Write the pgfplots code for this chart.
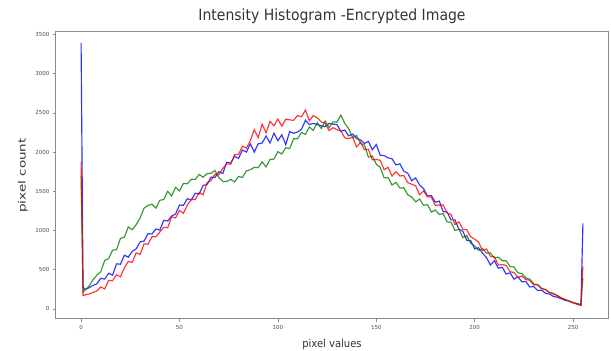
\documentclass[border=0pt]{standalone}
\usepackage{pgfplots}
\pgfplotsset{compat=1.18}
\usepackage{pgfplotstable}
\usepackage{fontspec}
\setmainfont{DejaVu Sans}
\definecolor{mplblue}{rgb}{0,0,1}
\definecolor{mplgreen}{rgb}{0,0.5,0}
\definecolor{mplred}{rgb}{1,0,0}

\pgfplotstableread{
x y
0 3390
1 280
2 250
4 270
6 300
8 320
10 390
12 380
14 455
16 430
18 575
20 570
22 685
24 660
26 735
28 765
30 855
32 865
34 960
36 955
38 1020
40 1005
42 1130
44 1120
46 1185
48 1210
50 1325
52 1320
54 1405
56 1390
58 1475
60 1465
62 1575
64 1585
66 1680
68 1675
70 1750
72 1725
74 1870
76 1860
78 1945
80 1920
82 2025
84 2000
86 2105
88 2000
90 2105
92 2115
94 2205
96 2115
98 2240
100 2145
102 2220
104 2095
106 2260
108 2240
110 2255
112 2290
114 2405
116 2350
118 2365
120 2350
122 2335
124 2325
126 2365
128 2355
130 2350
132 2265
134 2280
136 2205
138 2230
140 2170
142 2155
144 2110
146 2135
148 2030
150 2095
152 1960
154 1955
156 1925
158 1915
160 1835
162 1850
164 1755
166 1730
168 1635
170 1670
172 1580
174 1535
176 1440
178 1445
180 1360
182 1375
184 1240
186 1235
188 1135
190 1135
192 1015
194 990
196 875
198 870
200 765
202 780
204 710
206 655
208 560
210 615
212 520
214 530
216 445
218 460
220 380
222 410
224 345
226 350
228 280
230 285
232 235
234 240
236 200
238 190
240 160
242 150
244 130
246 110
248 100
250 80
252 70
254 50
255 1090
}\blue

\pgfplotstableread{
x y
0 1700
1 215
2 240
4 290
6 370
8 430
10 475
12 620
14 640
16 750
18 755
20 900
22 915
24 1045
26 1010
28 1075
30 1160
32 1285
34 1320
36 1335
38 1285
40 1385
42 1395
44 1500
46 1440
48 1550
50 1505
52 1600
54 1595
56 1655
58 1650
60 1715
62 1680
64 1725
66 1730
68 1765
70 1675
72 1625
74 1625
76 1650
78 1620
80 1690
82 1675
84 1760
86 1775
88 1805
90 1800
92 1875
94 1810
96 1905
98 1910
100 2005
102 1975
104 2055
106 2045
108 2170
110 2170
112 2250
114 2225
116 2320
118 2275
120 2375
122 2300
124 2395
126 2310
128 2385
130 2380
132 2470
134 2365
136 2295
138 2185
140 2210
142 2110
144 2090
146 1935
148 1950
150 1845
152 1805
154 1670
156 1675
158 1580
160 1615
162 1540
164 1545
166 1455
168 1425
170 1365
172 1400
174 1320
176 1330
178 1235
180 1260
182 1205
184 1215
186 1110
188 1105
190 1000
192 1015
194 910
196 935
198 835
200 805
202 745
204 770
206 710
208 715
210 650
212 660
214 615
216 615
218 540
220 535
222 460
224 450
226 395
228 380
230 320
232 310
234 260
236 245
238 210
240 200
242 170
244 140
246 120
248 100
250 80
252 65
254 55
255 400
}\green

\pgfplotstableread{
x y
0 1870
1 170
2 180
4 190
6 210
8 230
10 280
12 255
14 365
16 360
18 435
20 410
22 525
24 605
26 595
28 715
30 695
32 830
34 825
36 920
38 920
40 980
42 1040
44 1035
46 1175
48 1160
50 1255
52 1220
54 1325
56 1395
58 1395
60 1485
62 1455
64 1610
66 1635
68 1720
70 1710
72 1790
74 1850
76 1845
78 1965
80 1970
82 2075
84 2050
86 2145
88 2285
90 2185
92 2355
94 2245
96 2390
98 2335
100 2420
102 2330
104 2420
106 2410
108 2405
110 2465
112 2450
114 2535
116 2400
118 2465
120 2435
122 2385
124 2365
126 2275
128 2310
130 2285
132 2270
134 2180
136 2170
138 2190
140 2065
142 2125
144 2030
146 2035
148 1900
150 1905
152 1895
154 1775
156 1805
158 1695
160 1750
162 1695
164 1700
166 1610
168 1590
170 1570
172 1455
174 1505
176 1430
178 1425
180 1320
182 1325
184 1325
186 1225
188 1205
190 1075
192 1110
194 1015
196 1010
198 920
200 890
202 850
204 745
206 765
208 670
210 665
212 560
214 565
216 555
218 475
220 465
222 400
224 420
226 375
228 365
230 305
232 310
234 260
236 250
238 210
240 190
242 170
244 140
246 120
248 100
250 80
252 60
254 45
255 550
}\red

\begin{document}
\begin{tikzpicture}
\path[use as bounding box] (0,0) rectangle (611pt,351pt);
\begin{axis}[
  at={(56pt,32pt)}, anchor=south west,
  scale only axis, width=552pt, height=287pt,
  xmin=-12.75, xmax=267.75, ymin=-128, ymax=3530,
  xtick={0,50,100,150,200,250},
  ytick={0,500,1000,1500,2000,2500,3000,3500},
  tick align=outside, tick pos=left,
  major tick length=3pt,
  axis line style={black!45, line width=1pt},
  tick style={black!45, line width=0.6pt},
  /pgf/number format/assume math mode=true,
  /pgf/number format/1000 sep={},
  tick label style={font=\fontsize{5.5}{6}\selectfont, text=black!70},
  title={Intensity Histogram -Encrypted Image},
  title style={font=\fontsize{14}{16}\selectfont, yscale=1.1, text=black!80, at={(0.5,1)}, anchor=south, yshift=-1pt},
  xlabel={pixel values},
  ylabel={pixel count},
  xlabel style={font=\fontsize{10}{12}\selectfont, yscale=1.1, text=black!80, yshift=-2pt},
  ylabel style={font=\fontsize{10}{12}\selectfont, xscale=1.35, text=black!80, yshift=1pt},
  clip=false,
]
\addplot[mplblue, line width=1.15pt, opacity=0.8] table[x=x,y=y] {\blue};
\addplot[mplgreen, line width=1.15pt, opacity=0.8] table[x=x,y=y] {\green};
\addplot[mplred, line width=1.15pt, opacity=0.8] table[x=x,y=y] {\red};
\end{axis}
\end{tikzpicture}
\end{document}
